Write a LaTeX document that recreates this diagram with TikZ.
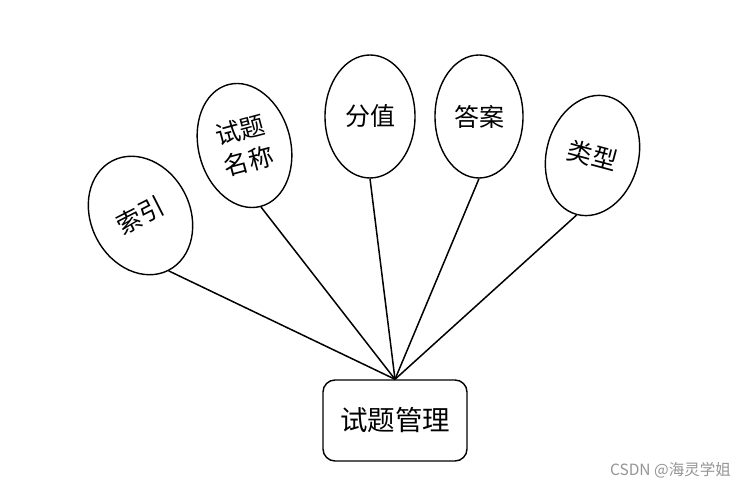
\documentclass[tikz,border=0pt]{standalone}
\usepackage{fontspec}
\newfontfamily\cjk{Noto Sans CJK SC}
\usetikzlibrary{shapes.geometric}
\begin{document}
\begin{tikzpicture}[x=1pt,y=1pt,
  attr/.style={ellipse, draw=black, line width=1.4pt, inner sep=0pt, font=\cjk\fontsize{25}{32}\selectfont, align=center},
  entity/.style={draw=black, line width=1.4pt, rounded corners=12pt, minimum width=144pt, minimum height=81pt, inner sep=0pt, font=\cjk\fontsize{27.5}{32}\selectfont},
  link/.style={draw=black, line width=1.5pt},
  wmark/.style={font=\cjk\fontsize{15.5}{18}\selectfont, text=black!42, inner sep=0pt}]
\useasboundingbox (0,0) rectangle (747,489);
\node[attr, minimum width=99pt, minimum height=123pt, rotate=27] (e1) at (140.5,273.5) {索引};
\node[attr, minimum width=92pt, minimum height=126pt, rotate=15] (e2) at (244.5,343.5) {试题\\名称};
\node[attr, minimum width=90pt, minimum height=123pt] (e3) at (370,372.5) {分值};
\node[attr, minimum width=88pt, minimum height=123pt] (e4) at (479,372.5) {答案};
\node[attr, minimum width=92pt, minimum height=122pt, rotate=-15] (e5) at (592.5,333.5) {类型};
\node[entity] (box) at (395,68.5) {试题管理};
\foreach \e in {e1,e2,e3,e4,e5} \draw[link] (box.north) -- (\e.south);
\node[wmark, anchor=east] (wm) at (731,18.5) {CSDN @海灵学姐};
\end{tikzpicture}
\end{document}
